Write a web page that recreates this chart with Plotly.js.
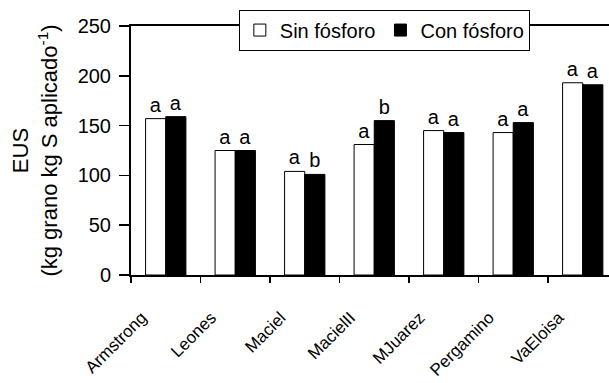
<!DOCTYPE html>
<html>
<head>
<meta charset="utf-8">
<script src="https://cdn.plot.ly/plotly-3.0.1.min.js"></script>
<style>html,body{margin:0;padding:0;background:#fff;}#chart{width:609px;height:383px;}</style>
</head>
<body>
<div id="chart"></div>
<script>
const categories = ["Armstrong", "Leones", "Maciel", "MacielII", "MJuarez", "Pergamino", "VaEloisa"];
const sinFosforo = [157, 125, 104, 131, 145, 143, 193];
const conFosforo = [159, 125, 101, 155, 143, 153, 191];
const sinLetters = ["a", "a", "a", "a", "a", "a", "a"];
const conLetters = ["a", "a", "b", "b", "a", "a", "a"];
const seriesNames = ["Sin fósforo", "Con fósforo"];
const yTicks = [0, 50, 100, 150, 200, 250];

const FONT = "Liberation Sans, Arial, sans-serif";

const traces = [
  {
    type: "bar", name: seriesNames[0], x: categories, y: sinFosforo,
    text: sinLetters, textposition: "outside", cliponaxis: false, constraintext: "none",
    textfont: {family: FONT, size: 20, color: "#000"},
    marker: {color: "#ffffff", line: {color: "#000", width: 1}}
  },
  {
    type: "bar", name: seriesNames[1], x: categories, y: conFosforo,
    text: conLetters, textposition: "outside", cliponaxis: false, constraintext: "none",
    textfont: {family: FONT, size: 20, color: "#000"},
    marker: {color: "#000000", line: {color: "#000", width: 1}}
  }
];

const layout = {
  width: 609, height: 383,
  margin: {l: 131, r: 0, t: 26, b: 108},
  paper_bgcolor: "#fff", plot_bgcolor: "#fff",
  font: {family: FONT, color: "#000", size: 20},
  barmode: "group", bargap: 0.42, bargroupgap: 0,
  showlegend: true,
  legend: {
    orientation: "h", x: 0.53, xanchor: "center", y: 1.066, yanchor: "top",
    bgcolor: "#fff", bordercolor: "#000", borderwidth: 1,
    font: {family: FONT, size: 20, color: "#000"},
    traceorder: "normal", itemwidth: 30
  },
  xaxis: {
    type: "category", range: [-0.5, 6.378],
    showline: true, linecolor: "#000", linewidth: 2, mirror: true,
    ticks: "outside", tickson: "boundaries", ticklen: 6, tickwidth: 1.5, tickcolor: "#000",
    tickangle: -45, tickfont: {family: FONT, size: 17, color: "#000"},
    ticklabelstandoff: 24, ticklabelshift: -24,
    showgrid: false, zeroline: false, automargin: false
  },
  yaxis: {
    range: [0, 250], tickmode: "array", tickvals: yTicks, ticktext: yTicks.map(String),
    showline: true, linecolor: "#000", linewidth: 2, mirror: false,
    ticks: "outside", ticklen: 10, tickwidth: 1.5, tickcolor: "#000",
    tickfont: {family: FONT, size: 20, color: "#000"},
    ticklabelstandoff: 4,
    showgrid: false, zeroline: false, automargin: false,
    title: {text: "EUS<br>(kg grano kg S aplicado<sup>-1</sup>)", font: {family: FONT, size: 22, color: "#000"}, standoff: 14}
  }
};

Plotly.newPlot("chart", traces, layout, {displayModeBar: false, staticPlot: true});
</script>
</body>
</html>
